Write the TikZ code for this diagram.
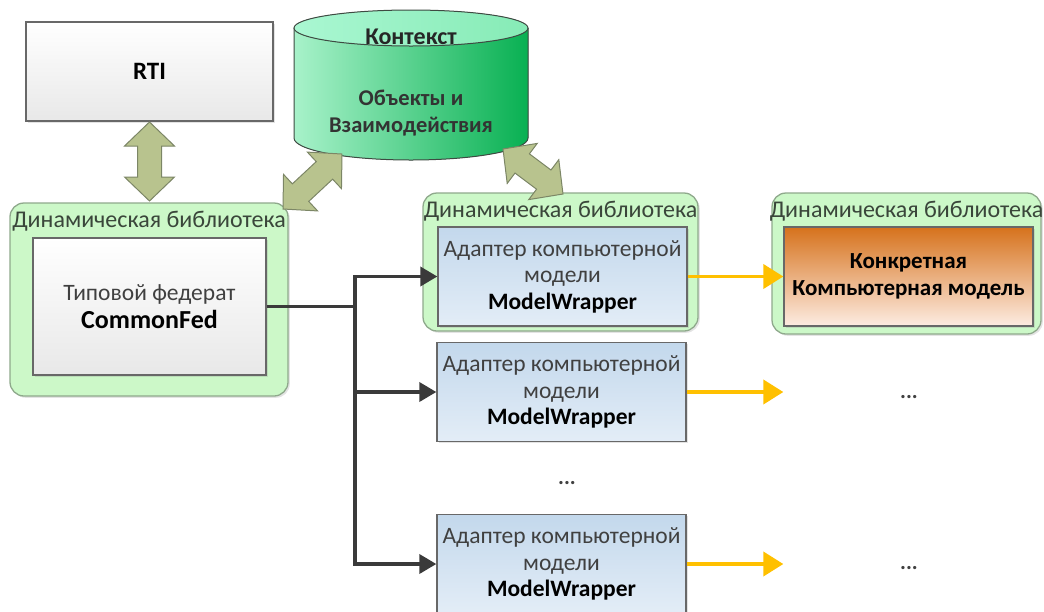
\documentclass[tikz,border=0pt]{standalone}
\usepackage{fontspec}
\setmainfont{Carlito}
\usetikzlibrary{shadows,arrows.meta,calc}

\definecolor{libfill}{HTML}{CCF8C8}
\definecolor{libline}{HTML}{8FA98C}
\definecolor{boxline}{HTML}{686868}
\definecolor{txtgray}{HTML}{404040}
\definecolor{libtxt}{HTML}{3A463A}
\definecolor{adtop}{HTML}{C3D8EC}
\definecolor{adbot}{HTML}{E3EDF7}
\definecolor{crtop}{HTML}{D6721C}
\definecolor{crbot}{HTML}{FDECE2}
\definecolor{cyltop}{HTML}{AAF7D2}
\definecolor{cyltopr}{HTML}{86EBB6}
\definecolor{cyllight}{HTML}{A8F2CA}
\definecolor{cyldark}{HTML}{08B052}
\definecolor{cylline}{HTML}{3E4A42}
\definecolor{fatfill}{HTML}{B8C38E}
\definecolor{fatline}{HTML}{7C8666}
\definecolor{gold}{HTML}{FFC000}
\definecolor{wire}{HTML}{3A3A3A}

% fat two-headed arrow between two points
\newcommand\fatlink[2]{%
  \path let \p1=(#1), \p2=(#2) in
    \pgfextra{%
      \pgfmathsetmacro\fatang{atan2(\y2-\y1,\x2-\x1)}%
      \pgfmathsetmacro\fatlen{veclen(\x2-\x1,\y2-\y1)}%
      \xdef\fatang{\fatang}\xdef\fatlen{\fatlen}};
  \begin{scope}[shift={(#1)}, rotate=\fatang]
    \filldraw[fatarrow] (0,0) -- (24,25) -- (24,12) -- (\fatlen-24,12)
      -- (\fatlen-24,25) -- (\fatlen,0) -- (\fatlen-24,-25) -- (\fatlen-24,-12)
      -- (24,-12) -- (24,-25) -- cycle;
  \end{scope}}

\begin{document}
\begin{tikzpicture}[x=1pt,y=-1pt,
  shade/.style={drop shadow={shadow xshift=1.8pt, shadow yshift=-1.8pt, opacity=0.22}},
  libbox/.style={draw=libline, line width=1.3pt, fill=libfill, rounded corners=14pt, shade},
  liblabel/.style={font=\fontsize{24}{26}\selectfont, text=libtxt, inner sep=0pt},
  plainbox/.style={draw=boxline, line width=1.3pt, top color=white, bottom color=black!9, shade},
  adapter/.style={draw=boxline, line width=1.3pt, top color=adtop, bottom color=adbot, shade,
    minimum width=249pt, minimum height=99pt, align=center, text=txtgray,
    font=\fontsize{23.5}{26.5}\selectfont},
  concrete/.style={draw=boxline, line width=1.3pt, top color=crtop, bottom color=crbot, shade,
    align=center, font=\bfseries\fontsize{23}{27}\selectfont},
  wire/.style={draw=wire, line width=3.6pt},
  wiretip/.style={-{Triangle[length=17pt,width=19pt]}},
  goldarrow/.style={draw=gold, line width=3.8pt, -{Triangle[length=20pt,width=24pt]}},
  fatarrow/.style={fill=fatfill, draw=fatline, line width=1pt, line join=miter},
  dots/.style={font=\bfseries\fontsize{22}{24}\selectfont, text=txtgray, inner sep=0pt}]

\useasboundingbox (0,0) rectangle (1044,611);

% dynamic library containers
\node[libbox, minimum width=278pt, minimum height=193pt] (lib1) at (149,299.5) {};
\node[libbox, minimum width=275pt, minimum height=138pt] (lib2) at (560.5,262) {};
\node[libbox, minimum width=269pt, minimum height=141pt] (lib3) at (906.5,263.5) {};
\node[liblabel] (lib1t) at ($(lib1.north)+(0,19)$) {Динамическая библиотека};
\node[liblabel] (lib2t) at ($(lib2.north)+(0,19)$) {Динамическая библиотека};
\node[liblabel] (lib3t) at ($(lib3.north)+(0,19)$) {Динамическая библиотека};

% RTI
\node[plainbox, minimum width=247pt, minimum height=99pt,
      font=\bfseries\fontsize{25}{28}\selectfont] (rti) at (149.5,71.5) {RTI};

% generic federate
\node[plainbox, minimum width=233pt, minimum height=137pt, align=center,
      font=\fontsize{23.5}{28}\selectfont] (cf) at (149.5,306.5)
  {\textcolor{txtgray}{Типовой федерат}\\{\fontsize{26}{28}\selectfont\bfseries CommonFed}};

% model adapters
\node[adapter] (a1) at (562.5,276.5)
  {Адаптер компьютерной\\модели\\\textcolor{black}{\bfseries ModelWrapper}};
\node[adapter] (a2) at (561.5,392)
  {Адаптер компьютерной\\модели\\\textcolor{black}{\bfseries ModelWrapper}};
\node[adapter] (a3) at (561.5,564)
  {Адаптер компьютерной\\модели\\\textcolor{black}{\bfseries ModelWrapper}};

% concrete computer model
\node[concrete, minimum width=249pt, minimum height=99pt] (cr) at (908.5,276.5)
  {Конкретная\\Компьютерная модель};

% context database (cylinder)
\fill[left color=cyllight, right color=cyldark]
  (294,28) -- (294,138) arc[start angle=180, end angle=360, x radius=117pt, y radius=22pt]
  -- (528,28) -- cycle;
\draw[cylline, line width=1pt]
  (294,28) -- (294,138) arc[start angle=180, end angle=360, x radius=117pt, y radius=22pt]
  -- (528,28);
\filldraw[left color=cyltop, right color=cyltopr, draw=cylline, line width=1pt]
  (411,28) ellipse[x radius=117pt, y radius=18pt];
\node[font=\bfseries\fontsize{24}{26}\selectfont, text=black!85] (ctxt) at (411,37) {Контекст};
\node[font=\bfseries\fontsize{22.5}{27}\selectfont, text=black!80, align=center]
  (ctx) at (411,113) {Объекты и\\Взаимодействия};

% wiring from the federate to the adapters
\coordinate (bus) at (355,305);
\draw[wire] (cf.east) -- (bus |- cf.east);
\draw[wire, line join=miter, {Triangle[length=17pt,width=19pt]}-{Triangle[length=17pt,width=19pt]}]
  (a3.west) -- (bus |- a3.west) -- (bus |- a1.west) -- (a1.west);
\draw[wire, wiretip] (bus |- a2.west) -- (a2.west);

% adapters to models
\draw[goldarrow] (a1.east) -- (cr.west);
\draw[goldarrow] (a2.east) -- (a2.east -| cr.west);
\draw[goldarrow] (a3.east) -- (a3.east -| cr.west);

% omitted items
\node[dots] (d1) at (567,483) {...};
\node[dots] (d2) at (909,397) {...};
\node[dots] (d3) at (909,568) {...};

% two-way exchange arrows
\coordinate (f1a) at (149.5,122);
\coordinate (f1b) at (149.5,201);
\coordinate (f2a) at (283,209);
\coordinate (f2b) at (342,154);
\coordinate (f3a) at (503,149);
\coordinate (f3b) at (563,194);
\fatlink{f1a}{f1b}
\fatlink{f2a}{f2b}
\fatlink{f3a}{f3b}

\end{tikzpicture}
\end{document}
